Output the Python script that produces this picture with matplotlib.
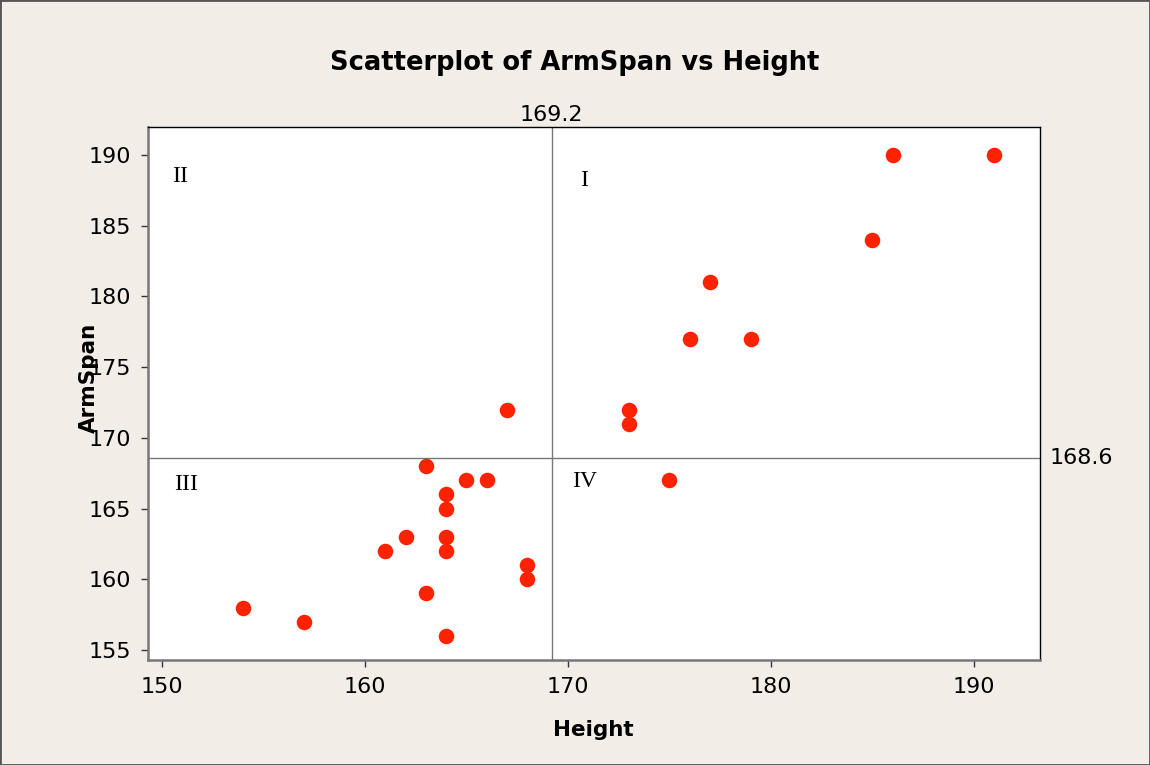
import numpy as np
import matplotlib
matplotlib.use('Agg')
import matplotlib.pyplot as plt

# data
height  = [154, 157, 161, 162, 163, 163, 164, 164, 164, 164, 164, 165, 166, 167,
           168, 168, 173, 173, 175, 176, 177, 179, 185, 186, 191]
armspan = [158, 157, 162, 163, 168, 159, 166, 165, 163, 162, 156, 167, 167, 172,
           161, 160, 172, 171, 167, 177, 181, 177, 184, 190, 190]
x_ref = 169.2
y_ref = 168.6
xticks = [150, 160, 170, 180, 190]
yticks = [155, 160, 165, 170, 175, 180, 185, 190]
quadrants = ['I', 'II', 'III', 'IV']

bg = '#f2eee7'
fig = plt.figure(figsize=(11.5, 7.65), dpi=100, facecolor=bg)
fig.patches.append(plt.Rectangle((0, 0), 1, 1, transform=fig.transFigure,
                                 fill=False, edgecolor='#555555', linewidth=2))
ax = fig.add_axes([0.1287, 0.1373, 0.7756, 0.6967])
ax.set_facecolor('white')

ax.scatter(height, armspan, s=125, color='#ff2200', zorder=3, linewidths=0)
ax.axvline(x_ref, color='#777777', linewidth=1)
ax.axhline(y_ref, color='#777777', linewidth=1)

ax.set_xlim(149.31, 193.25)
ax.set_ylim(154.29, 191.98)
ax.set_xticks(xticks)
ax.set_yticks(yticks)
ax.tick_params(direction='out', length=5, width=1, color='#333333',
               labelsize=16, pad=7)

for side in ['top', 'right']:
    ax.spines[side].set_color('black')
    ax.spines[side].set_linewidth(1)
for side in ['left', 'bottom']:
    ax.spines[side].set_color('#777777')
    ax.spines[side].set_linewidth(1.8)

# reference line labels
ax.text(x_ref, 1.003, '169.2', transform=ax.get_xaxis_transform(),
        ha='center', va='bottom', fontsize=16)
ax.text(1.011, y_ref, '168.6', transform=ax.get_yaxis_transform(),
        ha='left', va='center', fontsize=16)

# quadrant labels
qpos = {'I': (170.8, 188.2), 'II': (150.9, 188.5), 'III': (151.2, 166.7), 'IV': (170.8, 166.9)}
for q in quadrants:
    ax.text(qpos[q][0], qpos[q][1], q, ha='center', va='center',
            fontsize=17, family='Liberation Serif')

# the y label sits over the tick labels, as in the original
ax.set_xlabel('Height', fontsize=15.5, fontweight='bold')
ax.set_ylabel('ArmSpan', fontsize=15.5, fontweight='bold')
ax.xaxis.set_label_coords(0.499, -0.113)
ax.yaxis.set_label_coords(-0.055, 0.53)

fig.text(0.5, 0.918, 'Scatterplot of ArmSpan vs Height', ha='center', va='center',
         fontsize=18.5, fontweight='bold')

fig.savefig('out.png', dpi=100, facecolor=bg)
